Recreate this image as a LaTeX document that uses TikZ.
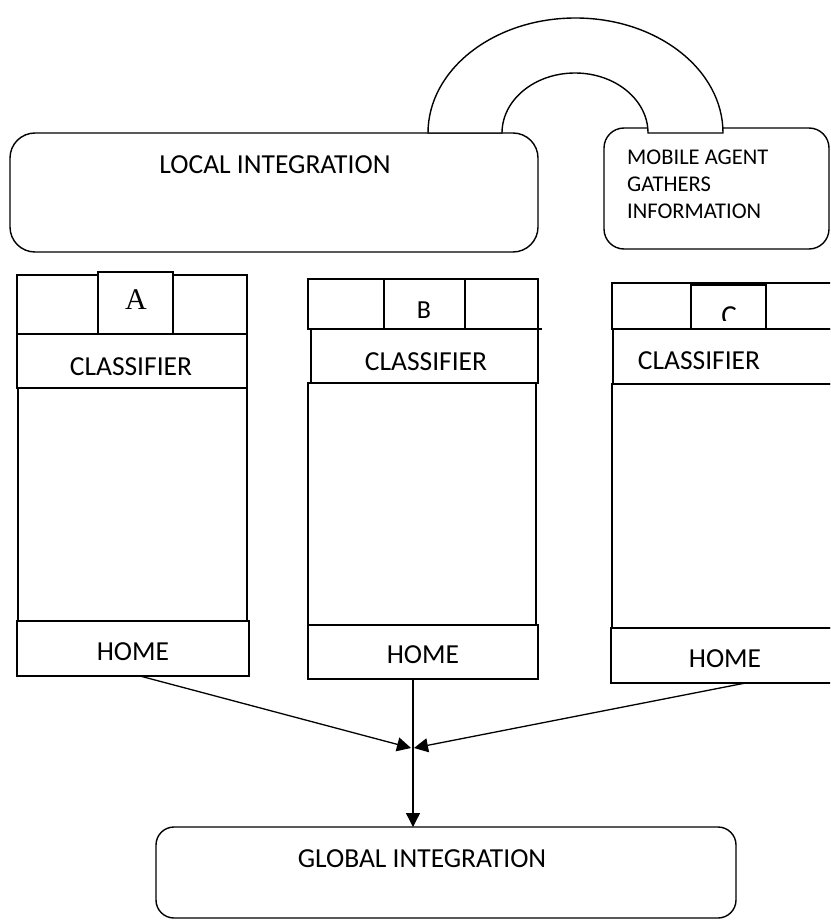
\documentclass[tikz,border=0pt]{standalone}
\usepackage{fontspec}
\setmainfont{Carlito}
\newfontfamily\serifA{Liberation Serif}
\usetikzlibrary{arrows.meta,calc}
\begin{document}
\begin{tikzpicture}[x=1pt,y=-1pt,
  frame/.style={draw=black,line width=1.4pt,fill=white,inner sep=0pt,outer sep=0pt,
    rectangle,anchor=north west},
  clsframe/.style={frame,line width=2.2pt},
  rbox/.style={frame,rounded corners=#1},
  lbl/.style={inner sep=0pt,anchor=base,font=\fontsize{27.5}{30}\selectfont},
  small/.style={inner sep=0pt,anchor=base west,font=\fontsize{22.5}{26}\selectfont},
  arr/.style={line width=1.3pt,-{Triangle[length=14pt,width=14pt]}}]

\clip (0,0) rectangle (830,920);

% ---- column A ----
\node[frame,minimum width=229pt,minimum height=233pt] (bodyA) at (18,388) {};
\node[frame,minimum width=230pt,minimum height=59pt] (topA) at (17,275) {};
\node[frame,minimum width=75pt,minimum height=62pt] (tabA) at (98,272) {};
\node[clsframe,minimum width=230pt,minimum height=54pt] (clsA) at (17,334) {};
\node[frame,minimum width=232pt,minimum height=55pt] (homeA) at (17,621) {};
\node[lbl,font=\serifA\fontsize{30}{32}\selectfont] (tA) at (136,309) {A};
\node[lbl] (cA) at (131,375) {CLASSIFIER};
\node[lbl] (hA) at (133,660) {HOME};

% ---- column B ----
\node[frame,minimum width=228pt,minimum height=242pt] (bodyB) at (308,383) {};
\node[frame,minimum width=230pt,minimum height=50pt] (topB) at (308,279) {};
\node[frame,minimum width=81pt,minimum height=50pt] (tabB) at (384,279) {};
\node[clsframe,minimum width=227pt,minimum height=54pt] (clsB) at (311,329) {};
\draw[line width=1.4pt] (clsB.north east) -- ++(4,0);
\node[frame,minimum width=230pt,minimum height=54pt] (homeB) at (308,625) {};
\node[lbl,font=\fontsize{26}{28}\selectfont] (tB) at (424,318) {B};
\node[lbl] (cB) at (426,370) {CLASSIFIER};
\node[lbl] (hB) at (423,663) {HOME};

% ---- column C ----
\node[frame,minimum width=240pt,minimum height=244pt] (bodyC) at (612,384) {};
\node[frame,minimum width=240pt,minimum height=46pt] (topC) at (612,283) {};
\node[frame,minimum width=75pt,minimum height=44pt] (tabC) at (691,285) {};
\begin{scope}
  \clip (691,285) rectangle (766,320);
  \node[lbl,font=\fontsize{29}{31}\selectfont] (tC) at (729,325) {C};
\end{scope}
\node[clsframe,minimum width=240pt,minimum height=55pt] (clsC) at (613,329) {};
\node[frame,minimum width=241pt,minimum height=55pt] (homeC) at (611,628) {};
\node[lbl] (cC) at (699,369) {CLASSIFIER};
\node[lbl] (hC) at (725,667) {HOME};

% ---- integration boxes ----
\node[rbox=25pt,minimum width=528pt,minimum height=119pt] (local) at (10,133) {};
\node[lbl] (tLocal) at (275,174) {LOCAL INTEGRATION};
\node[rbox=20pt,minimum width=225pt,minimum height=121pt] (mobile) at (604,128) {};
\node[small] (m1) at (627,165) {MOBILE AGENT};
\node[small] (m2) at (627,192) {GATHERS};
\node[small] (m3) at (627,218) {INFORMATION};
\node[rbox=18pt,minimum width=580pt,minimum height=91pt] (global) at (156,827) {};
\node[lbl] (tGlobal) at (422,867) {GLOBAL INTEGRATION};

% ---- arch linking the two upper boxes ----
\draw[line width=1.4pt,fill=white]
  (428,133) arc[start angle=180,end angle=0,x radius=147.5pt,y radius=115pt]
  -- (648,133) arc[start angle=0,end angle=180,x radius=73pt,y radius=60pt]
  -- cycle;

% ---- flows into the global integration ----
\coordinate (meet) at (413,748);
\draw[arr] ([xshift=7pt]homeA.south) -- ([xshift=-2pt]meet);
\draw[arr] ([xshift=14pt]homeC.south) -- ([xshift=1pt]meet);
\draw[arr] (homeB.south -| meet) -- (meet |- global.north);
\end{tikzpicture}
\end{document}
